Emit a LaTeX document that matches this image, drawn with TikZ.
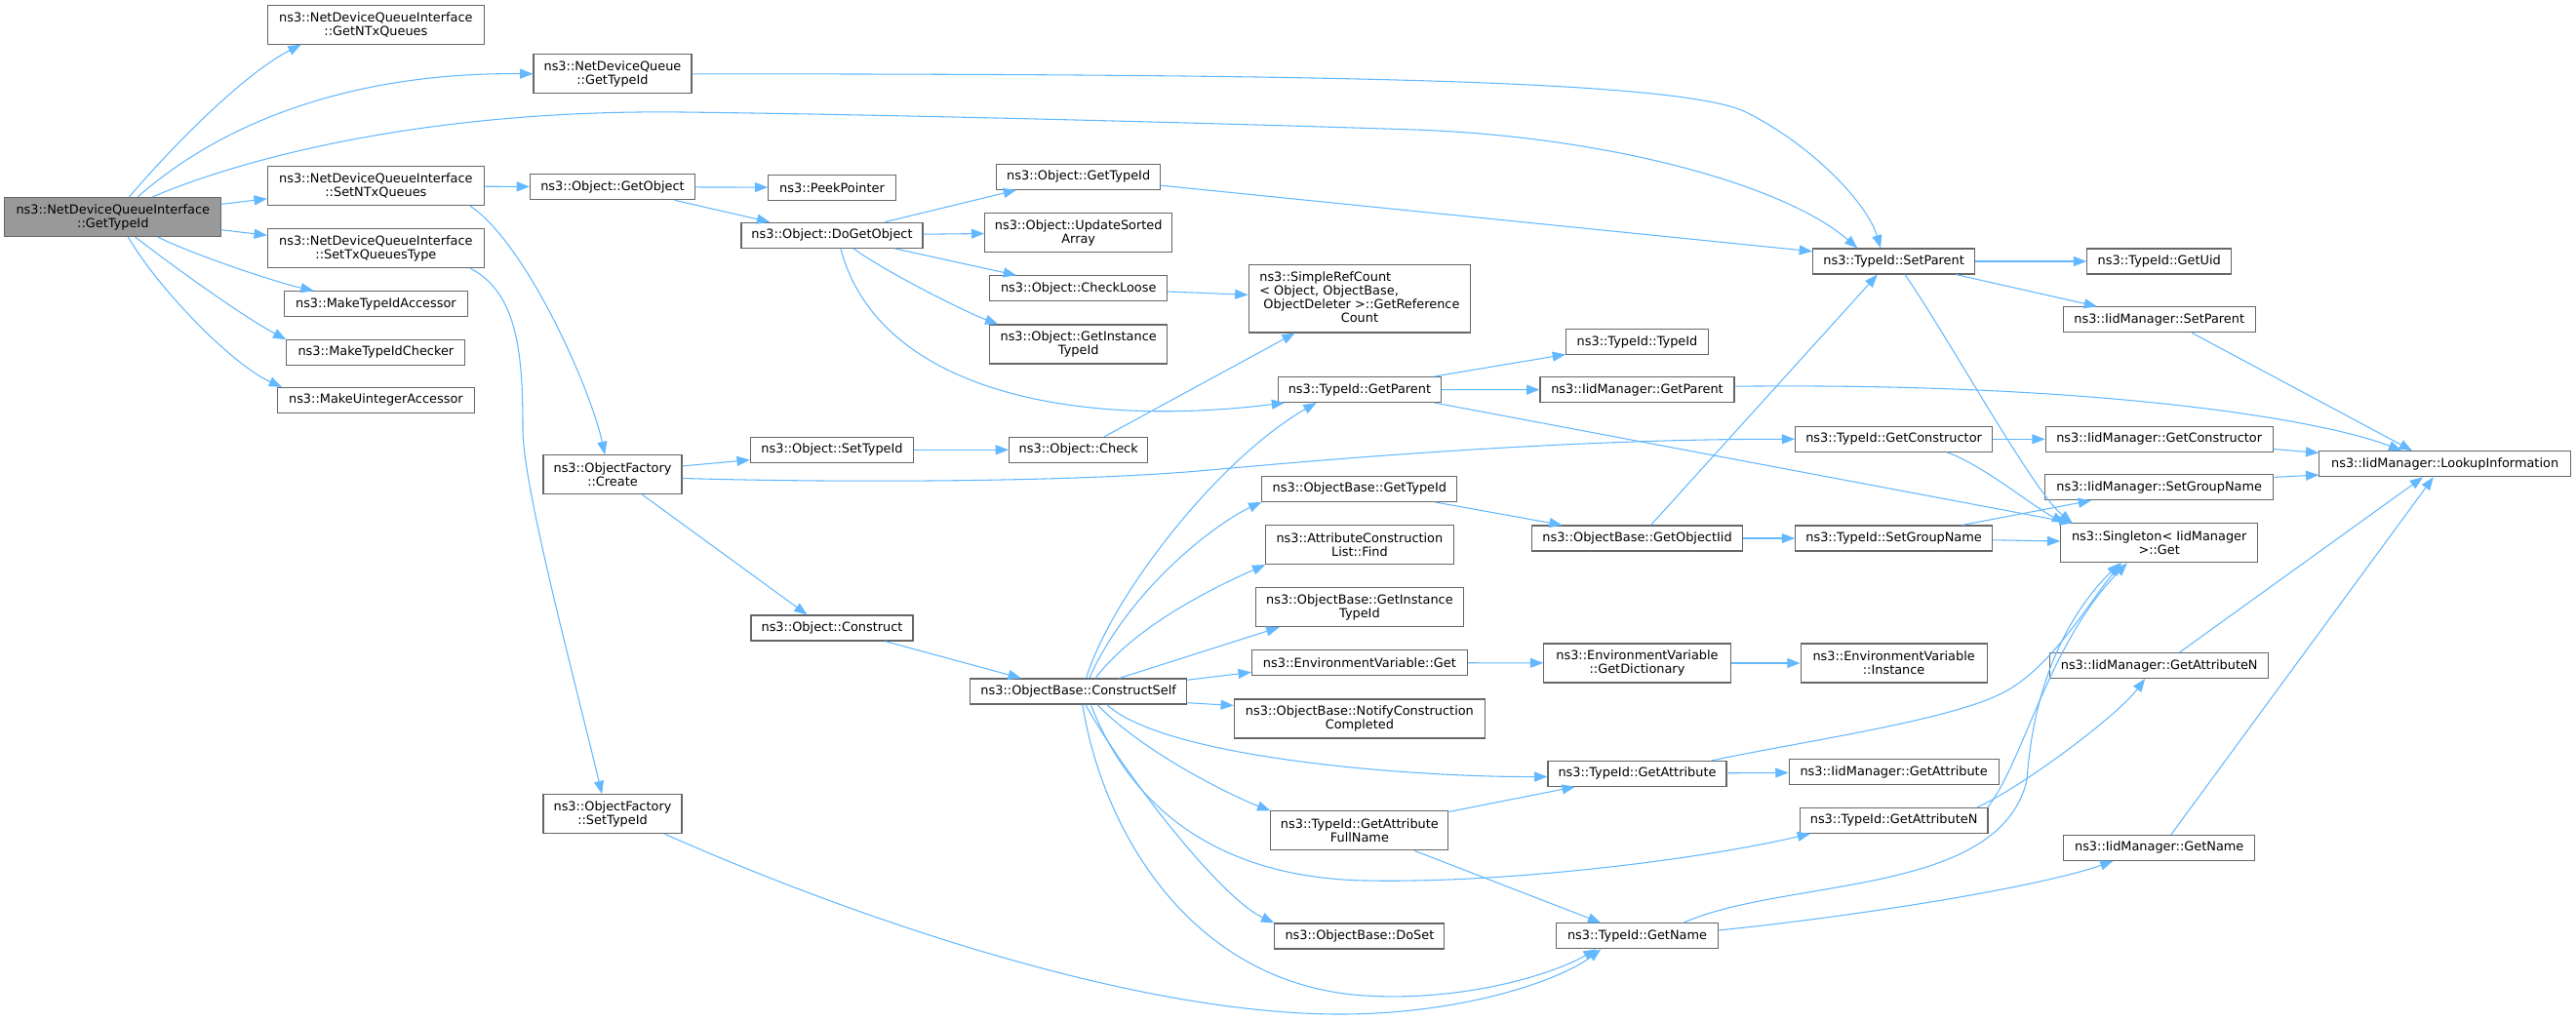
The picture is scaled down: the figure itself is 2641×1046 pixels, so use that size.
\documentclass[tikz,border=0pt]{standalone}
\usepackage{fontspec}
\setmainfont{DejaVu Sans}
\usetikzlibrary{arrows.meta}
\definecolor{edgeblue}{HTML}{63B8FF}
\definecolor{boxline}{HTML}{666666}
\definecolor{rootfill}{HTML}{999999}
\begin{document}
\begin{tikzpicture}[
    x=0.3mm, y=-0.3mm,
    fn/.style     = {draw=boxline, line width=0.32mm, fill=white, inner xsep=1pt, inner ysep=1pt,
                     minimum height=7.8mm, align=center, font=\fontsize{11}{12}\selectfont},
    fn2/.style    = {fn, minimum height=12mm},
    rootfn/.style = {fill=rootfill},
    bw/.style     = {minimum width=#1*0.3mm},
    call/.style   = {draw=edgeblue, line width=0.32mm, -{Triangle[length=4mm,width=3mm]}},
]
\useasboundingbox (0,0) rectangle (2641,1046);

% functions, column by column
\node [fn2, rootfn, bw=222] (root) at (115.8,222.5) {ns3::NetDeviceQueueInterface\\::GetTypeId};

\node [fn2, bw=222] (ntxq)   at (385.4,25.2)  {ns3::NetDeviceQueueInterface\\::GetNTxQueues};
\node [fn2, bw=222] (setntx) at (385.4,190.7) {ns3::NetDeviceQueueInterface\\::SetNTxQueues};
\node [fn2, bw=222] (settxq) at (385.4,254.5) {ns3::NetDeviceQueueInterface\\::SetTxQueuesType};
\node [fn, bw=188.5] (mtia)  at (385.4,311.7) {ns3::MakeTypeIdAccessor};
\node [fn, bw=183]   (mtic)  at (385.4,361.2) {ns3::MakeTypeIdChecker};
\node [fn, bw=202]   (mua)   at (385.4,410.4) {ns3::MakeUintegerAccessor};

\node [fn2, bw=162] (ndqtid)   at (628,75.8)  {ns3::NetDeviceQueue\\::GetTypeId};
\node [fn, bw=169]  (getobj)   at (628,191.8) {ns3::Object::GetObject};
\node [fn2, bw=142] (ofcreate) at (628,486.7) {ns3::ObjectFactory\\::Create};
\node [fn2, bw=142] (ofsettid) at (628,834.7) {ns3::ObjectFactory\\::SetTypeId};

\node [fn, bw=130.6] (peek)      at (853,192.2) {ns3::PeekPointer};
\node [fn, bw=186]   (dogo)      at (853,241.2) {ns3::Object::DoGetObject};
\node [fn, bw=167.3] (osettid)   at (853,461.3) {ns3::Object::SetTypeId};
\node [fn, bw=166]   (construct) at (853,644)   {ns3::Object::Construct};

\node [fn, bw=168.4]  (ogtid)  at (1105.7,181.3) {ns3::Object::GetTypeId};
\node [fn2, bw=192]   (usa)    at (1105.7,238.5) {ns3::Object::UpdateSorted\\Array};
\node [fn, bw=181.6]  (loose)  at (1105.7,295.8) {ns3::Object::CheckLoose};
\node [fn2, bw=181.6] (ogitid) at (1105.7,353)   {ns3::Object::GetInstance\\TypeId};
\node [fn, bw=142.3]  (check)  at (1105.7,461.3) {ns3::Object::Check};
\node [fn, bw=222]    (cself)  at (1105.7,709)   {ns3::ObjectBase::ConstructSelf};

\node [fn, bw=227.7, minimum height=20.8mm] (src) at (1393.9,306.3)
  {\begin{tabular}{@{}l@{}}ns3::SimpleRefCount\\< Object, ObjectBase,\\\ ObjectDeleter >::GetReference\\\multicolumn{1}{@{}c@{}}{Count}\end{tabular}};
\node [fn, bw=167.4] (gparent) at (1393.9,399.5) {ns3::TypeId::GetParent};
\node [fn, bw=200]   (obgtid)  at (1393.9,501.3) {ns3::ObjectBase::GetTypeId};
\node [fn2, bw=192.3] (acfind) at (1393.9,558.5) {ns3::AttributeConstruction\\List::Find};
\node [fn2, bw=213]  (obgitid) at (1393.9,622.7) {ns3::ObjectBase::GetInstance\\TypeId};
\node [fn, bw=221]   (envget)  at (1393.9,679.6) {ns3::EnvironmentVariable::Get};
\node [fn2, bw=257]  (notify)  at (1393.9,737)   {ns3::ObjectBase::NotifyConstruction\\Completed};
\node [fn2, bw=182]  (gafull)  at (1393.9,851.9) {ns3::TypeId::GetAttribute\\FullName};
\node [fn, bw=174]   (doset)   at (1393.9,960)   {ns3::ObjectBase::DoSet};

\node [fn, bw=145.8]  (tidtid)     at (1678.5,350.5) {ns3::TypeId::TypeId};
\node [fn, bw=199]    (iidgparent) at (1678.5,399.7) {ns3::IidManager::GetParent};
\node [fn, bw=216.4]  (goiid)      at (1678.5,552)   {ns3::ObjectBase::GetObjectIid};
\node [fn2, bw=191.5] (getdict)    at (1678.5,680)   {ns3::EnvironmentVariable\\::GetDictionary};
\node [fn, bw=183]    (gattr)      at (1678.5,793.3) {ns3::TypeId::GetAttribute};
\node [fn, bw=165.6]  (gname)      at (1678.5,959.8) {ns3::TypeId::GetName};

\node [fn, bw=166]   (sparent)  at (1941.6,268)   {ns3::TypeId::SetParent};
\node [fn, bw=202]   (gctor)    at (1941.6,450.3) {ns3::TypeId::GetConstructor};
\node [fn, bw=202]   (sgroup)   at (1941.6,552)   {ns3::TypeId::SetGroupName};
\node [fn2, bw=191]  (envinst)  at (1941.6,680)   {ns3::EnvironmentVariable\\::Instance};
\node [fn, bw=215]   (iidgattr) at (1941.6,791.8) {ns3::IidManager::GetAttribute};
\node [fn, bw=192.8] (gattrn)   at (1941.6,841.3) {ns3::TypeId::GetAttributeN};

\node [fn, bw=148]   (guid)       at (2213.7,268)   {ns3::TypeId::GetUid};
\node [fn, bw=196.7] (iidsparent) at (2213.7,327.8) {ns3::IidManager::SetParent};
\node [fn, bw=233]   (iidgctor)   at (2213.7,450.3) {ns3::IidManager::GetConstructor};
\node [fn, bw=234]   (iidsgroup)  at (2213.7,499.7) {ns3::IidManager::SetGroupName};
\node [fn2, bw=202]  (sget)       at (2213.7,556.8) {ns3::Singleton< IidManager\\>::Get};
\node [fn, bw=223.7] (iidgattrn)  at (2213.7,682.5) {ns3::IidManager::GetAttributeN};
\node [fn, bw=196]   (iidgname)   at (2213.7,869.3) {ns3::IidManager::GetName};

\node [fn, bw=257.4] (lookup) at (2506.6,475.7) {ns3::IidManager::LookupInformation};

% calls
\draw[call] (root.51) .. controls (177.5,149) and (251,75) .. (ntxq.195);
\draw[call] (root.39) .. controls (240,115) and (380,74) .. (ndqtid.west);
\draw[call] (root.27) .. controls (260,158) and (450,112) .. (700,115)
                      .. controls (950,118) and (1300,128) .. (1450,133)
                      .. controls (1650,140) and (1830,190) .. (sparent.160);
\draw[call] (root) -- (setntx);
\draw[call] (root) -- (settxq);
\draw[call] (root.-24) .. controls (200,262) and (285,290) .. (mtia.168);
\draw[call] (root.-42) .. controls (180,275) and (250,325) .. (mtic.172);
\draw[call] (root.-53) .. controls (165,300) and (240,375) .. (mua.172);

\draw[call] (setntx) -- (getobj);
\draw[call] (setntx.-12) .. controls (540,250) and (606,400) .. (ofcreate.111);
\draw[call] (settxq.-12) .. controls (530,300) and (536,360) .. (536,440)
                         .. controls (536,500) and (590,700) .. (ofsettid.118);

\draw[call] (getobj) -- (peek);
\draw[call] (getobj.-12) -- (dogo.168);
\draw[call] (dogo.14) -- (ogtid.192);
\draw[call] (dogo) -- (usa);
\draw[call] (dogo.-12) -- (loose.168);
\draw[call] (dogo.-32) .. controls (910,280) and (990,320) .. (ogitid.166);
\draw[call] (dogo.-57) .. controls (900,400) and (1100,440) .. (gparent.190);

\draw[call] (ogtid.-6) -- (sparent.173);
\draw[call] (loose.-2) -- (src.178);
\draw[call] (check.27) -- (src.208);

\draw[call] (ofcreate.7) -- (osettid.187);
\draw[call] (ofcreate.-3) .. controls (850,495) and (1100,495) .. (1240,482)
                          .. controls (1350,472) and (1600,450) .. (gctor.west);
\draw[call] (ofcreate.-34) -- (construct.152);
\draw[call] (osettid) -- (check);
\draw[call] (construct.-14) -- (cself.167);
\draw[call] (ofsettid.-21) .. controls (850,930) and (1150,1040) .. (1374,1040)
                           .. controls (1500,1040) and (1600,1005) .. (gname.200);

\draw[call] (cself.60) .. controls (1140,610) and (1250,470) .. (gparent.197);
\draw[call] (cself.51) .. controls (1160,600) and (1250,535) .. (obgtid.south west);
\draw[call] (cself.38) .. controls (1165,640) and (1250,600) .. (acfind.south west);
\draw[call] (cself.18) -- (obgitid.194);
\draw[call] (cself.6) -- (envget.185);
\draw[call] (cself.-6) -- (notify.174);
\draw[call] (cself.-25) .. controls (1195,778) and (1450,797) .. (gattr.182);
\draw[call] (cself.-35) .. controls (1170,770) and (1260,815) .. (gafull.north west);
\draw[call] (cself.-47) .. controls (1160,830) and (1250,900) .. (1400,903)
                        .. controls (1550,906) and (1750,880) .. (gattrn.189);
\draw[call] (cself.-62) .. controls (1150,790) and (1250,920) .. (doset.north west);
\draw[call] (cself.-73) .. controls (1130,850) and (1220,1010) .. (1400,1021)
                        .. controls (1500,1027) and (1590,1000) .. (gname.198);

\draw[call] (gparent.10) -- (tidtid.190);
\draw[call] (gparent) -- (iidgparent);
\draw[call] (gparent.-10) -- (sget.167);
\draw[call] (obgtid.-10) -- (goiid.170);
\draw[call] (goiid.44) -- (sparent.219);
\draw[call] (goiid) -- (sgroup);
\draw[call] (envget) -- (getdict);
\draw[call] (getdict) -- (envinst);
\draw[call] (gattr) -- (iidgattr);
\draw[call] (gattr.10) .. controls (1850,760) and (1990,740) .. (2048,713)
                       .. controls (2100,690) and (2140,620) .. (sget.208);
\draw[call] (gafull.12) -- (gattr.192);
\draw[call] (gafull.-20) -- (gname.160);
\draw[call] (gname.16) .. controls (1830,900) and (2050,920) .. (2078,800)
                       .. controls (2085,700) and (2120,630) .. (sget.207);
\draw[call] (gname.4) .. controls (1900,940) and (2090,910) .. (iidgname.196);

\draw[call] (ndqtid.east) .. controls (1300,76) and (1720,80) .. (1790,115)
                          .. controls (1860,150) and (1915,210) .. (sparent.135);
\draw[call] (sparent) -- (guid);
\draw[call] (sparent.-12) -- (iidsparent.168);
\draw[call] (sparent.-50) .. controls (2000,350) and (2085,505) .. (sget.167.5);
\draw[call] (gctor) -- (iidgctor);
\draw[call] (gctor.-14) .. controls (2030,475) and (2085,520) .. (sget.168);
\draw[call] (sgroup.11) -- (iidsgroup.191);
\draw[call] (sgroup) -- (sget);
\draw[call] (gattrn.9) .. controls (2070,809) and (2170,735) .. (iidgattrn.223);
\draw[call] (gattrn.8) .. controls (2075,780) and (2100,660) .. (sget.212);

\draw[call] (iidsparent.-22) -- (lookup.158);
\draw[call] (iidgparent.2) .. controls (2150,392) and (2380,430) .. (lookup.163);
\draw[call] (iidgctor.-5) -- (lookup.175);
\draw[call] (iidsgroup.5) -- (lookup.185);
\draw[call] (iidgattrn.33) -- (lookup.211);
\draw[call] (iidgname.48) -- (lookup.229);
\end{tikzpicture}
\end{document}
